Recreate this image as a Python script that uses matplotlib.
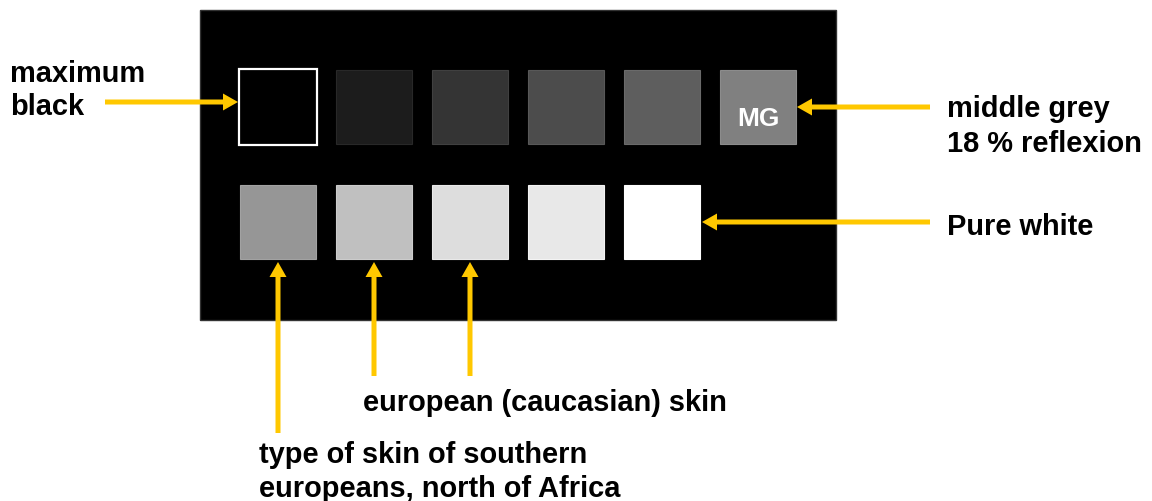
import matplotlib
matplotlib.use("Agg")
import matplotlib.pyplot as plt
from matplotlib.patches import Rectangle, FancyArrow

plt.rcParams['font.family'] = ['Liberation Sans', 'DejaVu Sans']

# grey levels of the patches (0-255)
top_row = [0x00, 0x1c, 0x34, 0x4c, 0x5e, 0x80]
bottom_row = [0x96, 0xc0, 0xdd, 0xe8, 0xff]

labels = {
    'black': 'maximum\nblack',
    'mg': 'middle grey\n18 % reflexion',
    'white': 'Pure white',
    'euro': 'european (caucasian) skin',
    'south': 'type of skin of southern\neuropeans, north of Africa',
}

yellow = '#ffc800'
fs = 20.9

fig = plt.figure(figsize=(11.52, 5.01), dpi=100)
ax = fig.add_axes([0, 0, 1, 1])
ax.set_xlim(0, 1152)
ax.set_ylim(501, 0)
ax.axis('off')

# black card
ax.add_patch(Rectangle((200, 10), 636, 310, facecolor='black', edgecolor='#333333', lw=1))

# swatches
for i, g in enumerate(top_row):
    c = '#%02x%02x%02x' % (g, g, g)
    x = 240 + 96 * i
    if i == 0:
        ax.add_patch(Rectangle((x - 1, 69), 78, 76, facecolor='black', edgecolor='white', lw=1.6))
    else:
        e = min(g + 12, 255)
        ax.add_patch(Rectangle((x, 70), 76, 74, facecolor=c,
                               edgecolor='#%02x%02x%02x' % (e, e, e), lw=0.8))
ax.text(240 + 96 * 5 + 38, 119, 'MG', color='white', fontsize=19, fontweight='bold',
        ha='center', va='center')

for i, g in enumerate(bottom_row):
    c = '#%02x%02x%02x' % (g, g, g)
    x = 240 + 96 * i
    e = min(g + 12, 255)
    ax.add_patch(Rectangle((x, 185), 76, 74, facecolor=c,
                           edgecolor='#%02x%02x%02x' % (e, e, e), lw=0.8))


def arrow(x0, y0, x1, y1):
    ax.add_patch(FancyArrow(x0, y0, x1 - x0, y1 - y0, width=5, head_width=17,
                            head_length=15, length_includes_head=True,
                            color=yellow, lw=0))


arrow(105, 102, 238, 102)
arrow(930, 107, 797, 107)
arrow(930, 222, 702, 222)
arrow(278, 433, 278, 262)
arrow(374, 376, 374, 262)
arrow(470, 376, 470, 262)

kw = dict(fontsize=fs, fontweight='bold', color='black', linespacing=1.15)
ax.text(10, 82, labels['black'].split('\n')[0], va='baseline', **kw)
ax.text(10, 115, labels['black'].split('\n')[1], va='baseline', **kw)
ax.text(947, 117, labels['mg'].split('\n')[0], va='baseline', **kw)
ax.text(947, 152, labels['mg'].split('\n')[1], va='baseline', **kw)
ax.text(947, 235, labels['white'], va='baseline', **kw)
ax.text(363, 411, labels['euro'], va='baseline', **kw)
ax.text(259, 463, labels['south'].split('\n')[0], va='baseline', **kw)
ax.text(259, 497, labels['south'].split('\n')[1], va='baseline', **kw)

fig.savefig('out.png', dpi=100)
